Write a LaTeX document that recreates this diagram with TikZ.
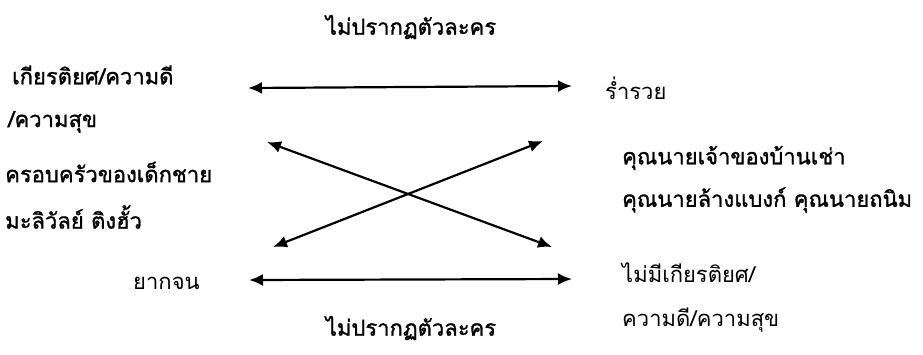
\documentclass[tikz,border=0pt]{standalone}
\usepackage{fontspec}
\newfontfamily\thaifont[Script=Thai]{Loma}
\newfontfamily\thaifontb[Script=Thai,FakeBold=1.2]{Loma}
\usetikzlibrary{arrows.meta}
\begin{document}
\begin{tikzpicture}[x=1pt,y=-1pt,
  lbl/.style={inner sep=0pt,font=\thaifont\fontsize{22}{26}\selectfont},
  lblb/.style={inner sep=0pt,font=\thaifontb\fontsize{22}{26}\selectfont},
  arr/.style={line width=2.2pt,{Latex[length=14pt,width=12pt]}-{Latex[length=14pt,width=12pt]}}]
\useasboundingbox (0,0) rectangle (923,354);
\node[lblb] (t1) at (411,27) {ไม่ปรากฏตัวละคร};
\node[lblb] (t2) at (411,328) {ไม่ปรากฏตัวละคร};
\node[lblb,anchor=west] (l1) at (12,75) {เกียรติยศ/ความดี};
\node[lblb,anchor=west] (l2) at (8,122) {/ความสุข};
\node[lblb,anchor=west] (l3) at (5,172) {ครอบครัวของเด็กชาย};
\node[lblb,anchor=west] (l4) at (5,217) {มะลิวัลย์ ติงฮั้ว};
\node[lbl,anchor=west] (l5) at (133,283) {ยากจน};
\node[lbl,anchor=west] (r1) at (605,88) {ร่ำรวย};
\node[lblb,anchor=west] (r2) at (622,158) {คุณนายเจ้าของบ้านเช่า};
\node[lblb,anchor=west] (r3) at (622,200) {คุณนายล้างแบงก์ คุณนายถนิม};
\node[lbl,anchor=west] (r4) at (622,273) {ไม่มีเกียรติยศ/};
\node[lbl,anchor=west] (r5) at (622,320) {ความดี/ความสุข};
\coordinate (a1) at (248,88);
\coordinate (b1) at (572,86);
\coordinate (a2) at (267,142);
\coordinate (b2) at (552,247);
\coordinate (a3) at (273,247);
\coordinate (b3) at (543,141);
\coordinate (a4) at (249,280);
\coordinate (b4) at (572,279);
\draw[arr] (a1) -- (b1);
\draw[arr] (a2) -- (b2);
\draw[arr] (a3) -- (b3);
\draw[arr] (a4) -- (b4);
\end{tikzpicture}
\end{document}
